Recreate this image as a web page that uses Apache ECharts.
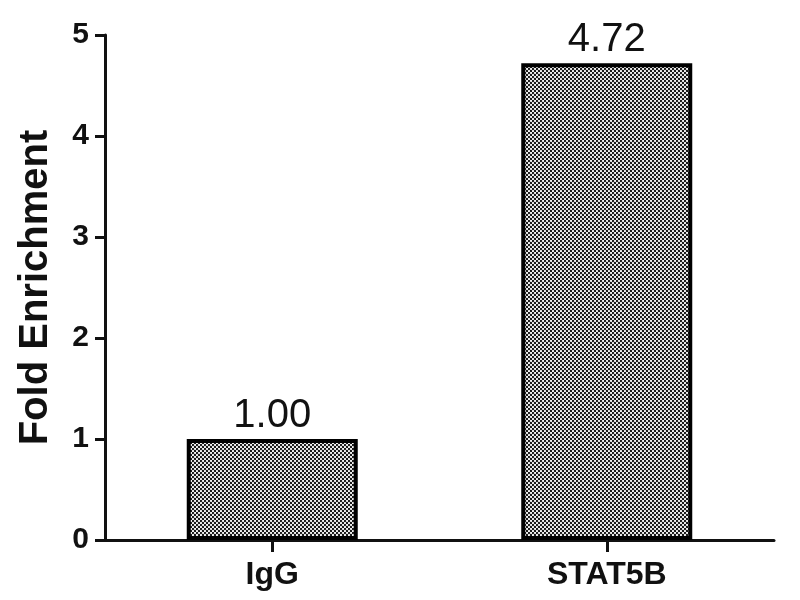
<!DOCTYPE html>
<html>
<head>
<meta charset="utf-8">
<title>Fold Enrichment</title>
<script src="https://cdn.jsdelivr.net/npm/echarts@6/dist/echarts.min.js"></script>
<style>
    html, body { margin: 0; padding: 0; background: #fff; }
    #chart { width: 800px; height: 600px; }
</style>
</head>
<body>
<div id="chart"></div>
<script>
var categories = ['IgG', 'STAT5B'];
var foldValues = [1.00, 4.72];
var yTicks = [0, 1, 2, 3, 4, 5];

// dotted fill like the original bars
function dotPattern() {
    var c = document.createElement('canvas');
    c.width = 4;
    c.height = 4;
    var ctx = c.getContext('2d');
    ctx.fillStyle = '#f2f2f2';
    ctx.fillRect(0, 0, 4, 4);
    ctx.fillStyle = '#111';
    ctx.beginPath();
    ctx.arc(1, 1, 1.15, 0, Math.PI * 2);
    ctx.arc(3, 3, 1.15, 0, Math.PI * 2);
    ctx.fill();
    return c;
}

var chart = echarts.init(document.getElementById('chart'));

chart.setOption({
    animation: false,
    textStyle: {
        fontFamily: 'Liberation Sans, Arial, sans-serif'
    },
    grid: {
        left: 105,
        right: 26,
        top: 35,
        bottom: 60,
        outerBoundsMode: 'none'
    },
    xAxis: {
        type: 'category',
        data: categories,
        axisLine: {
            show: true,
            lineStyle: { color: '#111', width: 3 }
        },
        axisTick: {
            show: true,
            alignWithLabel: true,
            length: 12,
            lineStyle: { color: '#111', width: 3 }
        },
        axisLabel: {
            color: '#111',
            fontSize: 32,
            fontWeight: 'bold',
            margin: 19
        }
    },
    yAxis: {
        type: 'value',
        min: yTicks[0],
        max: yTicks[yTicks.length - 1],
        interval: 1,
        name: 'Fold Enrichment',
        nameLocation: 'middle',
        nameGap: 49,
        nameMoveOverlap: false,
        nameTextStyle: {
            color: '#111',
            fontSize: 40,
            fontWeight: 'bold'
        },
        axisLine: {
            show: true,
            lineStyle: { color: '#111', width: 3 }
        },
        axisTick: {
            show: true,
            length: 10,
            lineStyle: { color: '#111', width: 3 }
        },
        axisLabel: {
            color: '#111',
            fontSize: 30,
            fontWeight: 'bold',
            margin: 16
        },
        splitLine: { show: false }
    },
    series: [{
        type: 'bar',
        data: foldValues,
        barWidth: 171,
        itemStyle: {
            color: { image: dotPattern(), repeat: 'repeat' },
            borderColor: '#000',
            borderWidth: 4
        },
        label: {
            show: true,
            position: 'top',
            distance: 3,
            color: '#111',
            fontSize: 40,
            formatter: function(p) {
                return p.value.toFixed(2);
            }
        }
    }]
});
</script>
</body>
</html>
